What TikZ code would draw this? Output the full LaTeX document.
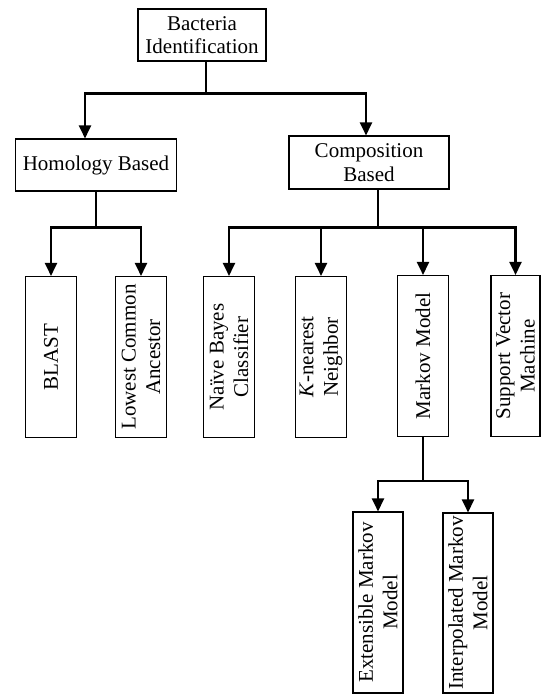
\documentclass[tikz,border=0pt]{standalone}
\usepackage{fontspec}
\setmainfont{Liberation Serif}
\usetikzlibrary{arrows.meta}

\begin{document}
\begin{tikzpicture}[x=1pt, y=-1pt,
    box/.style={draw, line width=1.1pt, inner sep=0pt, align=center,
        font=\fontsize{21}{23.5}\selectfont},
    vbox/.style={box, rotate=90, minimum width=161pt, minimum height=51pt,
        font=\fontsize{21}{24.5}\selectfont},
    link/.style={line width=2.4pt},
    arr/.style={link, -{Triangle[length=13pt, width=12pt]}}]
    \useasboundingbox (0,0) rectangle (541,695);

    % Root
    \node[box, minimum width=128pt, minimum height=52pt] (root) at (202,35) {Bacteria\\Identification};

    % Two families
    \node[box, minimum width=161pt, minimum height=52pt] (homol) at (96,165) {Homology Based};
    \node[box, minimum width=160pt, minimum height=53pt] (comp) at (369,162.5) {Composition\\Based};

    % Methods
    \node[vbox] (blast) at (51,357) {BLAST};
    \node[vbox] (lca) at (141,357) {Lowest Common\\Ancestor};
    \node[vbox] (nb) at (229,357) {Naïve Bayes\\Classifier};
    \node[vbox] (knn) at (321,357) {\textit{K}-nearest\\Neighbor};
    \node[vbox] (markov) at (423,356) {Markov Model};
    \node[vbox, minimum height=49pt] (svm) at (515.5,356) {Support Vector\\Machine};

    % Markov variants
    \node[vbox, minimum width=181pt, minimum height=50pt] (emm) at (378,602.5) {Extensible Markov\\Model};
    \node[vbox, minimum width=180pt, minimum height=50pt] (imm) at (468,603) {Interpolated Markov\\Model};

    % Root to families
    \draw[link] ([xshift=4pt]root.south) -- ++(0,32) coordinate (rj);
    \draw[arr] (rj) -| ([xshift=-11pt]homol.north);
    \draw[arr] (rj) -| ([xshift=-3pt]comp.north);

    % Homology branch
    \draw[link] (homol.south) -- ++(0,36) coordinate (hj);
    \draw[arr] (hj) -| (blast.east);
    \draw[arr] (hj) -| (lca.east);

    % Composition branch
    \draw[link] ([xshift=9pt]comp.south) -- ++(0,38) coordinate (cj);
    \draw[arr] (cj) -| (nb.east);
    \draw[arr] (cj) -| (svm.east);
    \draw[arr] (cj -| knn.east) -- (knn.east);
    \draw[arr] (cj -| markov.east) -- (markov.east);

    % Markov branch
    \draw[link] (markov.west) -- ++(0,44) coordinate (mj);
    \draw[arr] (mj) -| (emm.east);
    \draw[arr] (mj) -| (imm.east);
\end{tikzpicture}
\end{document}
